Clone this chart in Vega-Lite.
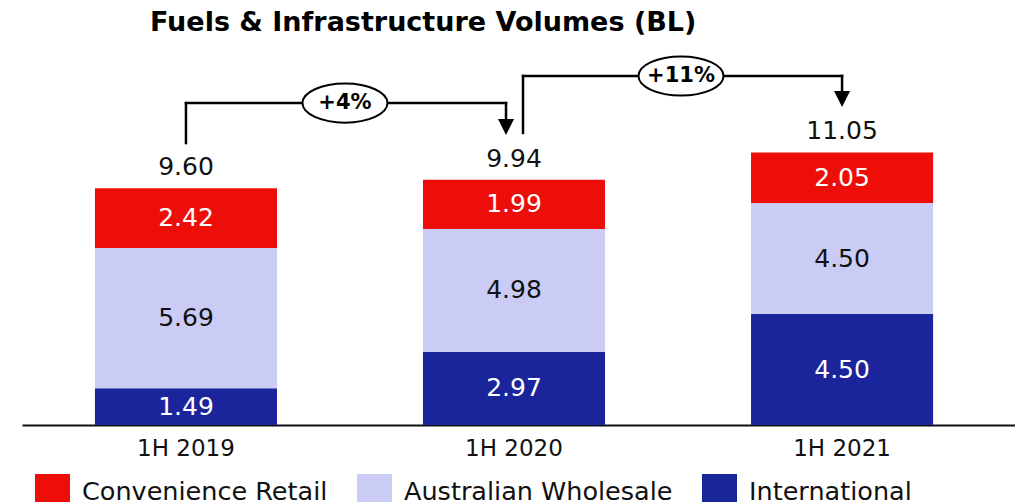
{
  "$schema": "https://vega.github.io/schema/vega-lite/v6.json",
  "width": 993,
  "height": 370,
  "autosize": {"type": "none"},
  "padding": {"left": 22, "top": 55, "right": 0, "bottom": 77},
  "background": "white",
  "config": {
    "font": "DejaVu Sans",
    "view": {"stroke": null},
    "text": {"font": "DejaVu Sans"}
  },
  "title": {
    "text": "Fuels & Infrastructure Volumes (BL)",
    "anchor": "start",
    "frame": "group",
    "dx": 128,
    "offset": 15,
    "font": "DejaVu Sans",
    "fontSize": 27,
    "fontWeight": "bold",
    "color": "#000000"
  },
  "datasets": {
    "volumes": [
      {"period": "1H 2019", "series": "International", "value": 1.49},
      {"period": "1H 2019", "series": "Australian Wholesale", "value": 5.69},
      {"period": "1H 2019", "series": "Convenience Retail", "value": 2.42},
      {"period": "1H 2020", "series": "International", "value": 2.97},
      {"period": "1H 2020", "series": "Australian Wholesale", "value": 4.98},
      {"period": "1H 2020", "series": "Convenience Retail", "value": 1.99},
      {"period": "1H 2021", "series": "International", "value": 4.50},
      {"period": "1H 2021", "series": "Australian Wholesale", "value": 4.50},
      {"period": "1H 2021", "series": "Convenience Retail", "value": 2.05}
    ],
    "seriesInfo": [
      {"series": "International", "rank": 1},
      {"series": "Australian Wholesale", "rank": 2},
      {"series": "Convenience Retail", "rank": 3}
    ],
    "totals": [
      {"period": "1H 2019", "total": 9.60},
      {"period": "1H 2020", "total": 9.94},
      {"period": "1H 2021", "total": 11.05}
    ]
  },
  "encoding": {
    "x": {
      "field": "period",
      "type": "nominal",
      "sort": ["1H 2019", "1H 2020", "1H 2021"],
      "scale": {"domain": ["1H 2019", "1H 2020", "1H 2021"], "paddingInner": 0.445, "paddingOuter": 0.236, "align": 0.471},
      "axis": {
        "title": null,
        "labelAngle": 0,
        "ticks": false,
        "domainColor": "#111111",
        "domainWidth": 2,
        "labelFontSize": 23,
        "labelFont": "DejaVu Sans",
        "labelColor": "#111111",
        "labelPadding": 12
      }
    }
  },
  "layer": [
    {
      "data": {"name": "volumes"},
      "transform": [
        {"lookup": "series", "from": {"data": {"name": "seriesInfo"}, "key": "series", "fields": ["rank"]}},
        {"stack": "value", "groupby": ["period"], "sort": [{"field": "rank", "order": "ascending"}], "as": ["v0", "v1"]}
      ],
      "mark": {"type": "bar"},
      "encoding": {
        "y": {"field": "v0", "type": "quantitative", "scale": {"domain": [0, 15], "nice": false}, "axis": null},
        "y2": {"field": "v1"},
        "color": {
          "field": "series",
          "type": "nominal",
          "sort": ["Convenience Retail", "Australian Wholesale", "International"],
          "scale": {"domain": ["Convenience Retail", "Australian Wholesale", "International"], "range": ["#ED0E0A", "#CACCF5", "#1B259B"]},
          "legend": {
            "title": null,
            "orient": "none",
            "direction": "horizontal",
            "legendX": 13,
            "legendY": 419,
            "symbolType": "square",
            "symbolSize": 1225,
            "symbolStrokeWidth": 0,
            "symbolOpacity": 1,
            "labelFontSize": 25.5,
            "labelFont": "DejaVu Sans",
            "labelColor": "#111111",
            "labelOffset": 12,
            "labelLimit": 0,
            "columnPadding": 29
          }
        }
      }
    },
    {
      "data": {"name": "volumes"},
      "transform": [
        {"lookup": "series", "from": {"data": {"name": "seriesInfo"}, "key": "series", "fields": ["rank"]}},
        {"stack": "value", "groupby": ["period"], "sort": [{"field": "rank", "order": "ascending"}], "as": ["v0", "v1"]},
        {"fold": ["v0", "v1"], "as": ["edge", "pos"]},
        {"aggregate": [{"op": "mean", "field": "pos", "as": "mid"}, {"op": "max", "field": "value", "as": "amount"}], "groupby": ["period", "series"]}
      ],
      "mark": {"type": "text", "fontSize": 25, "baseline": "middle"},
      "encoding": {
        "y": {"field": "mid", "type": "quantitative"},
        "text": {"field": "amount", "type": "quantitative", "format": ".2f"},
        "color": {"condition": {"test": "datum.series === 'Australian Wholesale'", "value": "#111111"}, "value": "#FFFFFF"}
      }
    },
    {
      "data": {"name": "totals"},
      "mark": {"type": "text", "fontSize": 25, "color": "#111111", "baseline": "bottom", "dy": -8},
      "encoding": {
        "y": {"field": "total", "type": "quantitative"},
        "text": {"field": "total", "type": "quantitative", "format": ".2f"}
      }
    },
    {
      "data": {"values": [{"period": "1H 2019", "low": 11.43, "high": 13.05}]},
      "mark": {"type": "rule", "strokeWidth": 2.5, "color": "#000000", "strokeCap": "square"},
      "encoding": {"y": {"field": "low", "type": "quantitative"}, "y2": {"field": "high"}}
    },
    {
      "data": {"values": [{"from": "1H 2019", "to": "1H 2020", "level": 13.05}]},
      "mark": {"type": "rule", "strokeWidth": 2.5, "color": "#000000", "strokeCap": "square", "x2Offset": -8},
      "encoding": {"x": {"field": "from"}, "x2": {"field": "to"}, "y": {"field": "level", "type": "quantitative"}}
    },
    {
      "data": {"values": [{"period": "1H 2020", "low": 12.41, "high": 13.05}]},
      "mark": {"type": "rule", "strokeWidth": 2.5, "color": "#000000", "strokeCap": "square", "xOffset": -8},
      "encoding": {"y": {"field": "low", "type": "quantitative"}, "y2": {"field": "high"}}
    },
    {
      "data": {"values": [{"period": "1H 2020", "tip": 12.08}]},
      "mark": {"type": "point", "shape": "M-1,-1L1,-1L0,1Z", "size": 256, "filled": true, "color": "#000000", "opacity": 1, "xOffset": -8},
      "encoding": {"y": {"field": "tip", "type": "quantitative"}}
    },
    {
      "data": {"values": [{"period": "1H 2020", "low": 11.84, "high": 14.15}]},
      "mark": {"type": "rule", "strokeWidth": 2.5, "color": "#000000", "strokeCap": "square", "xOffset": 9},
      "encoding": {"y": {"field": "low", "type": "quantitative"}, "y2": {"field": "high"}}
    },
    {
      "data": {"values": [{"from": "1H 2020", "to": "1H 2021", "level": 14.15}]},
      "mark": {"type": "rule", "strokeWidth": 2.5, "color": "#000000", "strokeCap": "square", "xOffset": 9},
      "encoding": {"x": {"field": "from"}, "x2": {"field": "to"}, "y": {"field": "level", "type": "quantitative"}}
    },
    {
      "data": {"values": [{"period": "1H 2021", "low": 13.54, "high": 14.15}]},
      "mark": {"type": "rule", "strokeWidth": 2.5, "color": "#000000", "strokeCap": "square"},
      "encoding": {"y": {"field": "low", "type": "quantitative"}, "y2": {"field": "high"}}
    },
    {
      "data": {"values": [{"period": "1H 2021", "tip": 13.22}]},
      "mark": {"type": "point", "shape": "M-1,-1L1,-1L0,1Z", "size": 256, "filled": true, "color": "#000000", "opacity": 1},
      "encoding": {"y": {"field": "tip", "type": "quantitative"}}
    },
    {
      "data": {"values": [{"period": "1H 2019", "level": 13.05, "label": "+4%"}]},
      "layer": [
        {
          "mark": {"type": "point", "shape": "M-1,0C-1,-0.254,-0.552,-0.46,0,-0.46C0.552,-0.46,1,-0.254,1,0C1,0.254,0.552,0.46,0,0.46C-0.552,0.46,-1,0.254,-1,0Z", "size": 7225, "filled": false, "fill": "white", "fillOpacity": 1, "stroke": "#000000", "strokeWidth": 2, "opacity": 1, "xOffset": 159},
          "encoding": {"y": {"field": "level", "type": "quantitative"}}
        },
        {
          "mark": {"type": "text", "fontSize": 21, "fontWeight": "bold", "color": "#000000", "baseline": "middle", "xOffset": 159},
          "encoding": {"y": {"field": "level", "type": "quantitative"}, "text": {"field": "label"}}
        }
      ]
    },
    {
      "data": {"values": [{"period": "1H 2020", "level": 14.15, "label": "+11%"}]},
      "layer": [
        {
          "mark": {"type": "point", "shape": "M-1,0C-1,-0.254,-0.552,-0.46,0,-0.46C0.552,-0.46,1,-0.254,1,0C1,0.254,0.552,0.46,0,0.46C-0.552,0.46,-1,0.254,-1,0Z", "size": 7225, "filled": false, "fill": "white", "fillOpacity": 1, "stroke": "#000000", "strokeWidth": 2, "opacity": 1, "xOffset": 167},
          "encoding": {"y": {"field": "level", "type": "quantitative"}}
        },
        {
          "mark": {"type": "text", "fontSize": 21, "fontWeight": "bold", "color": "#000000", "baseline": "middle", "xOffset": 167},
          "encoding": {"y": {"field": "level", "type": "quantitative"}, "text": {"field": "label"}}
        }
      ]
    }
  ]
}
